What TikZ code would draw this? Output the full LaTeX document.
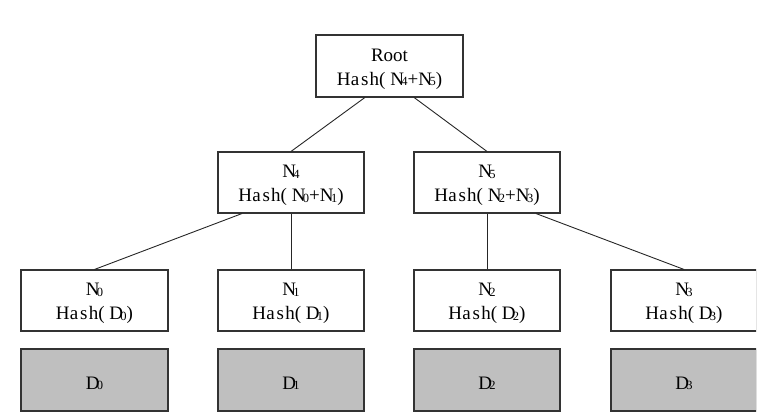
\documentclass[tikz,border=0pt]{standalone}
\usepackage{fontspec}
\setmainfont{Liberation Serif}
\usetikzlibrary{calc}
\newcommand\sbd[1]{\kern-2.6pt\raisebox{-0.3pt}{\fontsize{12.5}{12.5}\selectfont #1}}
\newcommand\hsh{H\kern0.3pt a\kern1.8pt s\kern1.2pt h}
\newcommand\tstrut{\rule{0pt}{19pt}}
\tikzset{
  hashbox/.style={draw=black!80, line width=1.1pt, fill=white, minimum width=146pt, minimum height=61pt, inner sep=0pt, align=center, font=\fontsize{19}{24}\selectfont},
  databox/.style={hashbox, fill=black!25},
  link/.style={draw=black!85, line width=0.9pt}
}
\begin{document}
\begin{tikzpicture}[x=1pt,y=-1pt]
\useasboundingbox (0,0) rectangle (782,418);
\begin{scope}
\clip (0,0) rectangle (756,418);
\node[hashbox, minimum width=147pt, minimum height=62pt] (root) at (389.5,66) {\tstrut Root\\\hsh( N\sbd{4}+N\sbd{5})};
\node[hashbox] (n4) at (291,182.5) {\tstrut N\sbd{4}\\\hsh( N\sbd{0}+N\sbd{1})};
\node[hashbox] (n5) at (487,182.5) {\tstrut N\sbd{5}\\\hsh( N\sbd{2}+N\sbd{3})};
\node[hashbox, minimum width=147pt] (n0) at (94.5,300.5) {\tstrut N\sbd{0}\\\hsh( D\sbd{0})};
\node[hashbox] (n1) at (291,300.5) {\tstrut N\sbd{1}\\\hsh( D\sbd{1})};
\node[hashbox] (n2) at (487,300.5) {\tstrut N\sbd{2}\\\hsh( D\sbd{2})};
\node[hashbox] (n3) at (684,300.5) {\tstrut N\sbd{3}\\\hsh( D\sbd{3})};
\node[databox, minimum width=147pt, minimum height=62pt] (d0) at (94.5,380) {\rule{0pt}{19pt}D\sbd{0}};
\node[databox, minimum height=62pt] (d1) at (291,380) {\rule{0pt}{19pt}D\sbd{1}};
\node[databox, minimum height=62pt] (d2) at (487,380) {\rule{0pt}{19pt}D\sbd{2}};
\node[databox, minimum height=62pt] (d3) at (684,380) {\rule{0pt}{19pt}D\sbd{3}};
\draw[link] ($(root.south west)!1/3!(root.south east)$) -- (n4.north);
\draw[link] ($(root.south west)!2/3!(root.south east)$) -- (n5.north);
\draw[link] ($(n4.south west)!1/6!(n4.south east)$) -- (n0.north);
\draw[link] (n4.south) -- (n1.north);
\draw[link] (n5.south) -- (n2.north);
\draw[link] ($(n5.south west)!5/6!(n5.south east)$) -- (n3.north);
\end{scope}
\end{tikzpicture}
\end{document}
